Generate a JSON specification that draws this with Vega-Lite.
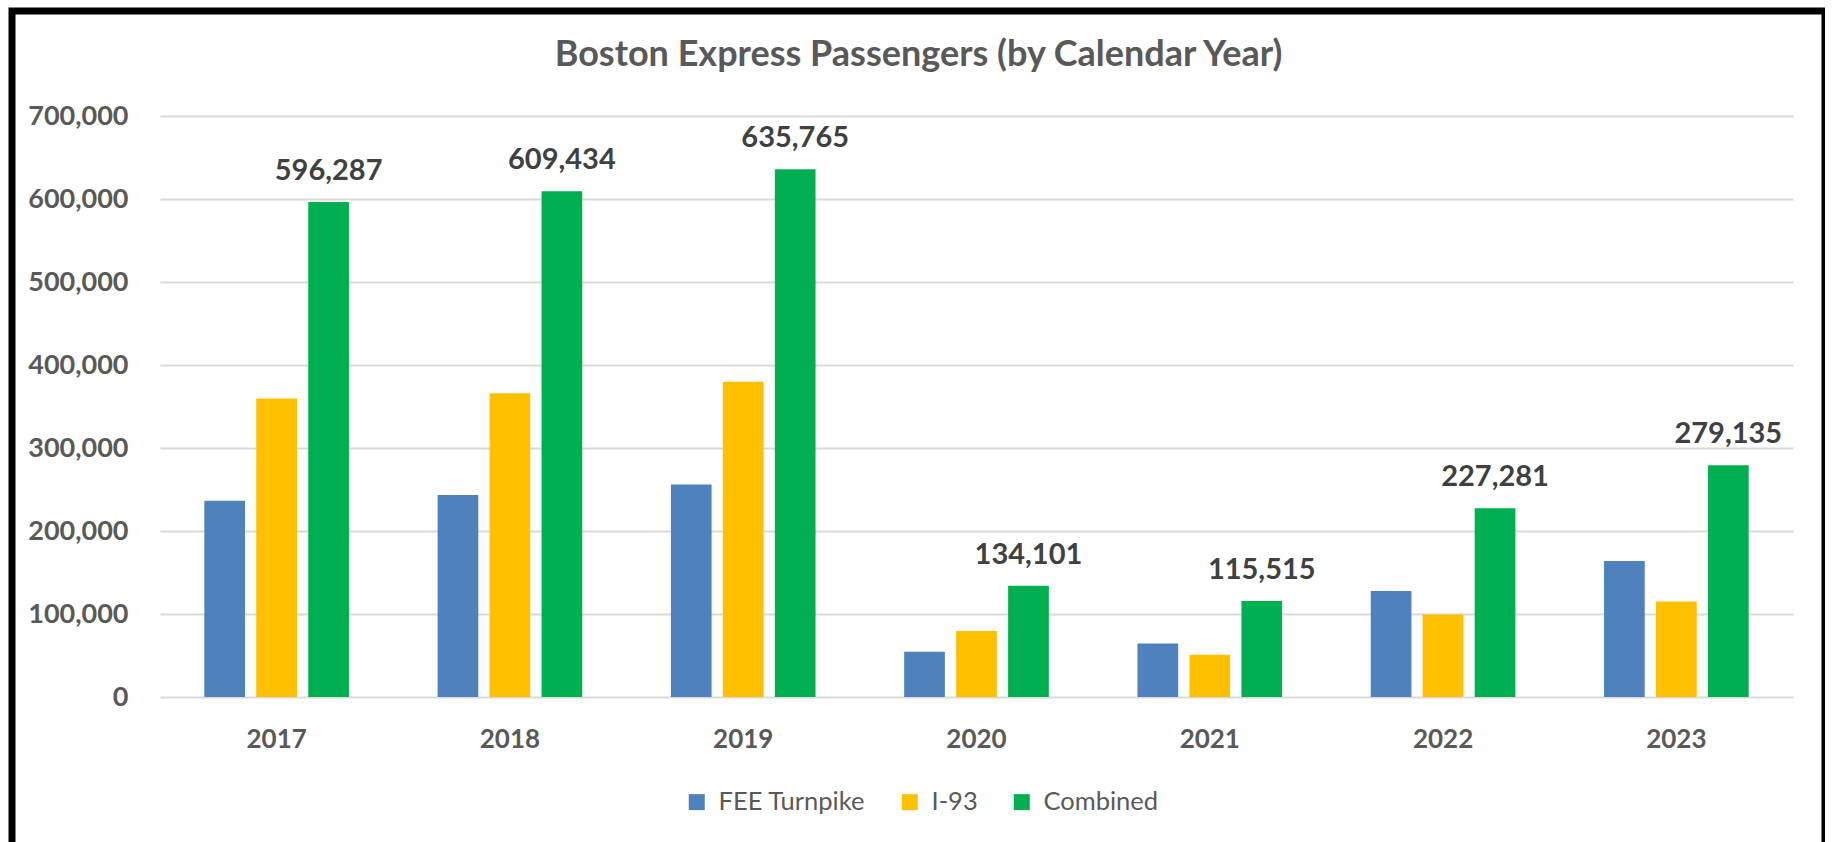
{
  "$schema": "https://vega.github.io/schema/vega-lite/v6.json",
  "autosize": {"type": "none"},
  "width": 1813,
  "height": 835,
  "padding": {"left": 12, "top": 11, "right": 0, "bottom": 0},
  "background": "white",
  "config": {"view": {"stroke": "black", "strokeWidth": 7}, "font": "Lato"},
  "title": {"text": "Boston Express Passengers (by Calendar Year)", "fontSize": 36, "fontWeight": "bold", "color": "#595959", "anchor": "middle", "baseline": "alphabetic", "offset": -91},
  "data": {"values": [
    {"year": "2017", "series": "FEE Turnpike", "value": 236500},
    {"year": "2017", "series": "I-93", "value": 359787},
    {"year": "2017", "series": "Combined", "value": 596287},
    {"year": "2018", "series": "FEE Turnpike", "value": 243500},
    {"year": "2018", "series": "I-93", "value": 365934},
    {"year": "2018", "series": "Combined", "value": 609434},
    {"year": "2019", "series": "FEE Turnpike", "value": 256000},
    {"year": "2019", "series": "I-93", "value": 379765},
    {"year": "2019", "series": "Combined", "value": 635765},
    {"year": "2020", "series": "FEE Turnpike", "value": 54500},
    {"year": "2020", "series": "I-93", "value": 79601},
    {"year": "2020", "series": "Combined", "value": 134101},
    {"year": "2021", "series": "FEE Turnpike", "value": 64500},
    {"year": "2021", "series": "I-93", "value": 51015},
    {"year": "2021", "series": "Combined", "value": 115515},
    {"year": "2022", "series": "FEE Turnpike", "value": 127781},
    {"year": "2022", "series": "I-93", "value": 99500},
    {"year": "2022", "series": "Combined", "value": 227281},
    {"year": "2023", "series": "FEE Turnpike", "value": 164000},
    {"year": "2023", "series": "I-93", "value": 115135},
    {"year": "2023", "series": "Combined", "value": 279135}
  ]},
  "encoding": {
    "x": {
      "field": "year", "type": "nominal",
      "scale": {"range": [148, 1781], "paddingInner": 0.38, "paddingOuter": 0.19},
      "axis": {"title": null, "orient": "bottom", "offset": -149, "domain": false, "ticks": false, "tickSize": 0, "grid": false, "labelAngle": 0, "labelFontSize": 26, "labelFontWeight": "bold", "labelColor": "#595959", "labelBaseline": "middle", "labelPadding": 42}
    },
    "xOffset": {"field": "series", "type": "nominal", "scale": {"domain": ["FEE Turnpike", "I-93", "Combined"], "paddingInner": 0.217}},
    "y": {
      "field": "value", "type": "quantitative",
      "scale": {"domain": [0, 700000], "range": [686, 105], "nice": false},
      "axis": {"title": null, "values": [0, 100000, 200000, 300000, 400000, 500000, 600000, 700000], "labelExpr": "format(datum.value, ',')", "domain": false, "ticks": false, "tickSize": 0, "labelPadding": 10, "offset": -126, "labelFontSize": 27, "labelFontWeight": "bold", "labelColor": "#595959", "grid": true, "gridColor": "#D9D9D9", "gridWidth": 2}
    }
  },
  "layer": [
    {
      "mark": {"type": "bar"},
      "encoding": {
        "color": {
          "field": "series", "type": "nominal",
          "scale": {"domain": ["FEE Turnpike", "I-93", "Combined"], "range": ["#4F81BD", "#FFC000", "#00B050"]},
          "legend": {"orient": "none", "legendX": 672, "legendY": 778, "direction": "horizontal", "title": null, "symbolType": "square", "symbolSize": 256, "symbolStrokeWidth": 0, "labelFontSize": 25.5, "labelColor": "#595959", "labelOffset": 9, "columnPadding": 31}
        }
      }
    },
    {
      "transform": [{"filter": "datum.series === 'Combined'"}],
      "mark": {"type": "text", "fontSize": 29, "fontWeight": "bold", "color": "#404040", "baseline": "alphabetic", "dy": -22},
      "encoding": {"text": {"field": "value", "type": "quantitative", "format": ","}}
    }
  ]
}
